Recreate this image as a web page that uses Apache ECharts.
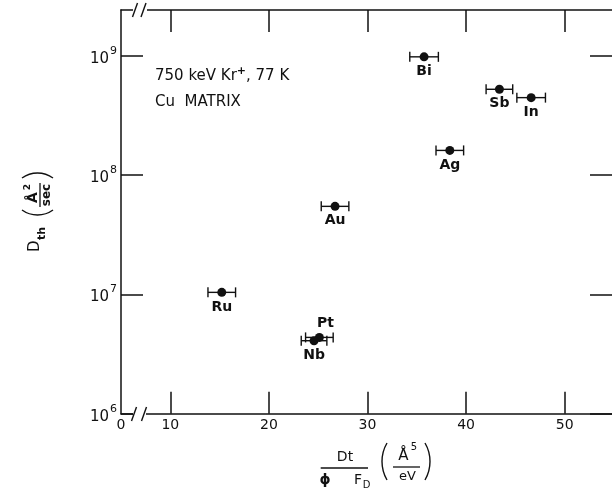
<!DOCTYPE html>
<html><head><meta charset="utf-8">
<script src="https://cdn.jsdelivr.net/npm/echarts@6/dist/echarts.min.js"></script>
<style>html,body{margin:0;padding:0;background:#fff}#c{width:612px;height:490px}</style>
</head><body><div id="c"></div>
<script>
// ---- data ----
const elements = ['Bi', 'Sb', 'In', 'Ag', 'Au', 'Ru', 'Pt', 'Nb'];
const xValues  = [35.74, 43.38, 46.6, 38.35, 26.71, 15.22, 25.12, 24.58];
const yValues  = [9.8e8, 5.24e8, 4.46e8, 1.61e8, 5.47e7, 1.04e7, 4.36e6, 4.09e6];
const xErrors  = [1.45, 1.35, 1.45, 1.4, 1.4, 1.4, 1.4, 1.3];
const xTickValues  = [10, 20, 30, 40, 50];
const xLabelValues = [5, 10, 20, 30, 40, 50];
const xLabelTexts  = ['0', '10', '20', '30', '40', '50'];
const yTickValues  = [1e6, 1e7, 1e8, 1e9];
const yTickExponents = ['6', '7', '8', '9'];
const annotationLine1 = ['750 keV Kr', '+', ', 77 K'];
const annotationLine2 = 'Cu  MATRIX';

const FONT = 'DejaVu Sans';
const INK = '#111';
const chart = echarts.init(document.getElementById('c'), null, {renderer: 'canvas'});

const errData = elements.map((n, i) => [xValues[i], yValues[i], xErrors[i]]);
const ptData = elements.map((n, i) => {
  const d = {name: n, value: [xValues[i], yValues[i]]};
  if (n === 'Pt') d.label = {position: 'top', distance: 3, offset: [6, 0]};
  return d;
});

const lineStyle = {color: INK, width: 1.5};
function arc(cx, cy, r, a0, a1) {
  return {type: 'arc', shape: {cx, cy, r, startAngle: a0, endAngle: a1, clockwise: true},
          style: {stroke: INK, lineWidth: 1.4, fill: null}, silent: true};
}
function txt(x, y, text, size, weight, align, valign) {
  return {type: 'text', x, y, silent: true,
          style: {text, fill: INK, font: (weight || 'normal') + ' ' + size + 'px "' + FONT + '"',
                  textAlign: align || 'center', textVerticalAlign: valign || 'middle'}};
}
function seg(x1, y1, x2, y2, w) {
  return {type: 'line', shape: {x1, y1, x2, y2}, style: {stroke: INK, lineWidth: w || 1.4}, silent: true};
}

const option = {
  backgroundColor: '#fff',
  animation: false,
  grid: {left: 121, top: 10, right: 0, bottom: 76.3, containLabel: false},
  xAxis: [{
    type: 'value', min: 5, max: 54.8, position: 'bottom',
    axisLine: {show: true, onZero: false, lineStyle},
    axisTick: {show: true, inside: true, length: 22, customValues: xTickValues, lineStyle},
    axisLabel: {show: true, customValues: xLabelValues, margin: 5,
      formatter: v => xLabelTexts[xLabelValues.indexOf(v)],
      color: INK, fontSize: 14, fontFamily: FONT},
    splitLine: {show: false}
  }, {
    type: 'value', min: 5, max: 54.8, position: 'top',
    axisLine: {show: true, onZero: false, lineStyle},
    axisTick: {show: true, inside: true, length: 22, customValues: xTickValues, lineStyle},
    axisLabel: {show: false}, splitLine: {show: false}
  }],
  yAxis: [{
    type: 'log', logBase: 10, min: 1e6, max: 2.42e9, position: 'left',
    axisLine: {show: true, onZero: false, lineStyle},
    axisTick: {show: true, inside: true, length: 22, customValues: yTickValues, lineStyle},
    axisLabel: {show: true, customValues: yTickValues, margin: 4,
      formatter: v => '{b|10}{s|' + yTickExponents[yTickValues.indexOf(v)] + '}',
      rich: {
        b: {fontSize: 15, fontFamily: FONT, color: INK, padding: [6, 0, 0, 0], verticalAlign: 'bottom'},
        s: {fontSize: 11, fontFamily: FONT, color: INK, verticalAlign: 'top', padding: [0, 0, 0, 1]}
      }},
    splitLine: {show: false}
  }, {
    type: 'log', logBase: 10, min: 1e6, max: 2.42e9, position: 'right',
    axisLine: {show: false},
    axisTick: {show: true, inside: true, length: 22, customValues: yTickValues, lineStyle},
    axisLabel: {show: false}, splitLine: {show: false}
  }],
  series: [{
    type: 'custom', xAxisIndex: 0, yAxisIndex: 0, data: errData,
    encode: {x: 0, y: 1}, z: 3,
    renderItem(params, api) {
      const x = api.value(0), y = api.value(1), e = api.value(2);
      const lo = api.coord([x - e, y]);
      const hi = api.coord([x + e, y]);
      const h = 5;
      const style = {stroke: INK, lineWidth: 1.4, fill: null};
      return {type: 'group', children: [
        {type: 'line', shape: {x1: lo[0], y1: lo[1], x2: hi[0], y2: hi[1]}, style},
        {type: 'line', shape: {x1: lo[0], y1: lo[1] - h, x2: lo[0], y2: lo[1] + h}, style},
        {type: 'line', shape: {x1: hi[0], y1: hi[1] - h, x2: hi[0], y2: hi[1] + h}, style}
      ]};
    }
  }, {
    type: 'scatter', xAxisIndex: 0, yAxisIndex: 0, data: ptData, z: 4,
    symbol: 'circle', symbolSize: 9,
    itemStyle: {color: INK, opacity: 1},
    label: {show: true, position: 'bottom', distance: 3, formatter: '{b}',
            color: INK, fontSize: 14, fontWeight: 'bold', fontFamily: FONT},
    emphasis: {disabled: true}
  }],
  graphic: [
    // axis breaks
    {type: 'rect', shape: {x: 133, y: 408, width: 13, height: 12}, style: {fill: '#fff'}, z: 100, silent: true},
    {type: 'rect', shape: {x: 133, y: 4, width: 14, height: 12}, style: {fill: '#fff'}, z: 100, silent: true},
    Object.assign(seg(131.5, 421, 136.5, 407), {z: 101}),
    Object.assign(seg(141.5, 421, 146.5, 407), {z: 101}),
    Object.assign(seg(132.5, 17, 137.5, 3), {z: 101}),
    Object.assign(seg(141, 17, 146, 3), {z: 101}),
    // annotation
    {type: 'text', x: 155, y: 66, silent: true, z: 50,
     style: {text: '{a|' + annotationLine1[0] + '}{s|' + annotationLine1[1] + '}{a|' + annotationLine1[2] + '}',
             textVerticalAlign: 'top', textAlign: 'left',
             rich: {a: {fontSize: 15, fontFamily: FONT, fill: INK, padding: [3, 0, 0, 0], verticalAlign: 'bottom'},
                    s: {fontSize: 11, fontFamily: FONT, fill: INK, verticalAlign: 'top', fontWeight: 'bold'}}}},
    Object.assign(txt(155, 102, annotationLine2, 15, 'normal', 'left', 'middle'), {z: 50}),
    // x-axis title
    txt(345, 457.5, 'Dt', 14),
    seg(320.7, 468, 368, 468, 1.3),
    txt(325, 480, 'ϕ', 14, 'bold'),
    txt(358, 480, 'F', 14),
    txt(366.5, 485, 'D', 10),
    arc(418.7, 461.5, 36.7, Math.PI - 0.528, Math.PI + 0.528),
    arc(393.3, 461.5, 36.7, -0.528, 0.528),
    txt(403.5, 456, 'Å', 15),
    txt(414, 447, '5', 10),
    seg(393, 467, 420, 467, 1.3),
    txt(407.5, 477, 'eV', 13),
    // y-axis title (rotated)
    {type: 'group', x: 35, y: 252, rotation: Math.PI / 2, silent: true, children: [
      txt(0, 0, 'D', 15, 'normal', 'left', 'middle'),
      txt(12, 7, 'th', 11, 'bold', 'left', 'middle'),
      arc(63.5, 2.5, 26.5, Math.PI - 0.625, Math.PI + 0.625),
      txt(54.5, -2, 'Å', 14, 'bold'),
      txt(65, -7, '2', 9, 'bold'),
      seg(45, 5, 69, 5, 1.3),
      txt(57, 11.5, 'sec', 12, 'bold'),
      arc(52.5, 2.5, 26.5, -0.625, 0.625)
    ]}
  ]
};
chart.setOption(option);
</script>
</body></html>
